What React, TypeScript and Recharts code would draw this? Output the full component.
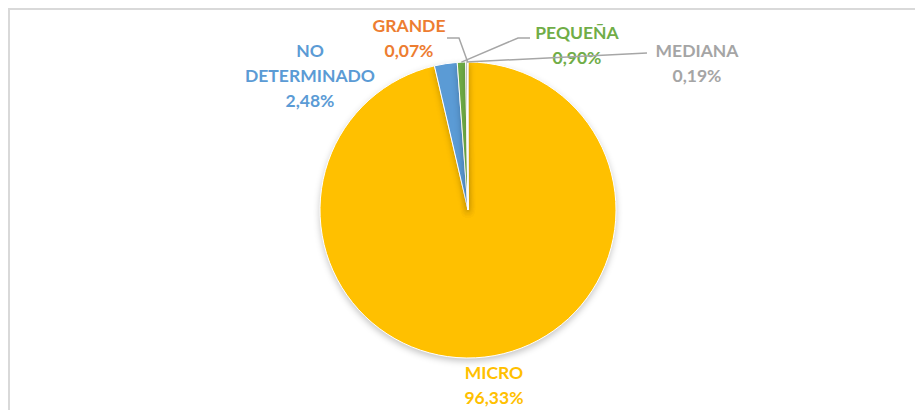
import { PieChart, Pie, Cell } from "recharts";

// order as drawn clockwise from 12 o'clock
const CATEGORIES = ["MICRO", "NO DETERMINADO", "PEQUEÑA", "MEDIANA", "GRANDE"];
const SHARES = [96.33, 2.48, 0.9, 0.19, 0.07];
const COLORS = ["#FFC000", "#5B9BD5", "#70AD47", "#A5A5A5", "#ED7D31"];

const data = CATEGORIES.map((name, i) => ({ name, value: SHARES[i] }));

// where each label sits (Excel labels were dragged by hand)
const LABEL_LAYOUT: Record<string, { x: number; y: number; lines: string[]; leader?: [number, number][] }> = {
  MICRO: { x: 494, y: 372, lines: ["MICRO"] },
  "NO DETERMINADO": { x: 310, y: 50, lines: ["NO", "DETERMINADO"] },
  PEQUEÑA: { x: 577, y: 32, lines: ["PEQUEÑA"], leader: [[518, 38], [530, 38]] },
  MEDIANA: { x: 697, y: 50, lines: ["MEDIANA"], leader: [[647, 53]] },
  GRANDE: { x: 409, y: 25, lines: ["GRANDE"], leader: [[459, 38], [447, 38]] },
};

const fmt = (v: number) => v.toFixed(2).replace(".", ",") + "%";

const RAD = Math.PI / 180;
const LINE_H = 25;

function renderLabel(props: any) {
  const { cx, cy, midAngle, outerRadius, name, value, index } = props;
  const lay = LABEL_LAYOUT[name];
  if (!lay) return null;
  const color = COLORS[index % COLORS.length];
  const sx = cx + outerRadius * Math.cos(-midAngle * RAD);
  const sy = cy + outerRadius * Math.sin(-midAngle * RAD);
  const lines = [...lay.lines, fmt(value)];
  return (
    <g key={name}>
      {lay.leader && (
        <polyline
          points={[[sx, sy], ...lay.leader].map((p) => p.join(",")).join(" ")}
          fill="none"
          stroke="#A6A6A6"
          strokeWidth={1.5}
        />
      )}
      {lines.map((t, i) => (
        <text
          key={i}
          x={lay.x}
          y={lay.y + i * LINE_H}
          textAnchor="middle"
          dominantBaseline="central"
          fill={color}
          fontFamily="Lato, 'Open Sans', sans-serif"
          fontWeight={700}
          fontSize={17.5}
        >
          {t}
        </text>
      ))}
    </g>
  );
}

export default function App() {
  return (
    <div style={{ position: "relative", width: 915, height: 410, overflow: "hidden", background: "#fff" }}>
      <style>{`body{margin:0;overflow:hidden} .recharts-pie-sector{filter:drop-shadow(0 3px 3px rgba(0,0,0,0.22))}`}</style>
      <div
        style={{
          position: "absolute",
          left: 8,
          top: 8,
          width: 920,
          height: 420,
          borderLeft: "2px solid #D9D9D9",
          borderTop: "2px solid #D9D9D9",
        }}
      />
      <div style={{ position: "absolute", left: 0, top: 0 }}>
        <PieChart width={915} height={410} margin={{ top: 0, right: 0, bottom: 0, left: 0 }}>
          <Pie
            data={data}
            dataKey="value"
            nameKey="name"
            cx={468}
            cy={210}
            outerRadius={148}
            startAngle={90}
            endAngle={-270}
            stroke="#FFFFFF"
            strokeWidth={1}
            label={renderLabel}
            labelLine={false}
            isAnimationActive={false}
          >
            {data.map((d, i) => (
              <Cell key={d.name} fill={COLORS[i % COLORS.length]} />
            ))}
          </Pie>
        </PieChart>
      </div>
    </div>
  );
}
